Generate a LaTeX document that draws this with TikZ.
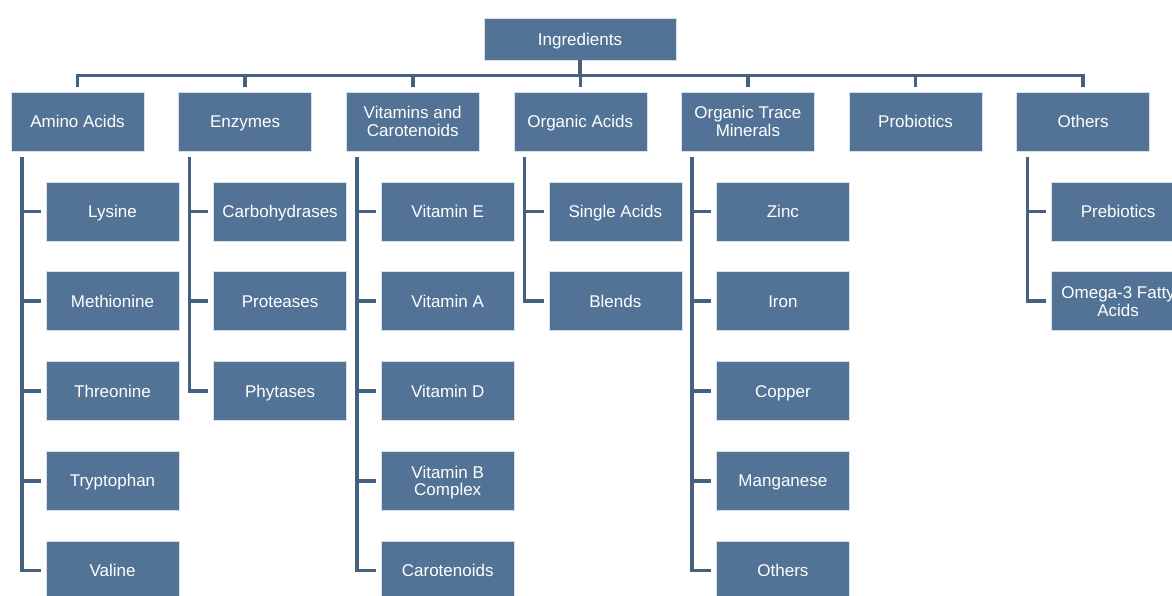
\documentclass[tikz,border=0pt]{standalone}
\usepackage{fontspec}
\setmainfont{Liberation Sans}
\usepackage{tikz}
\usetikzlibrary{positioning, calc}
\definecolor{boxblue}{HTML}{527396}
\definecolor{linkblue}{HTML}{45617F}
\definecolor{edgegrey}{HTML}{D8E0EA}

\begin{document}
\begin{tikzpicture}[
  x=1pt, y=1pt,
  node distance=30.2pt and 34pt,
  box/.style={rectangle, draw=edgegrey, line width=0.6pt, fill=boxblue, text=white, align=center, font=\fontsize{17}{17.5}\selectfont, inner sep=2pt, minimum width=133pt, minimum height=59pt, text height=12.3pt, text depth=0pt},
  twoline/.style={text height=29.8pt},
  root/.style={box, minimum width=192pt, minimum height=42pt},
  link/.style={draw=linkblue, line width=3.6pt, line join=miter}
]
  \useasboundingbox (0,0) rectangle (1172,-595);

  \node[root] (ingr) at (580,-39) {Ingredients};

  \node[box] (amino) at (77.5,-121.5) {Amino Acids};
  \node[box, right=of amino] (enzymes) {Enzymes};
  \node[box, twoline, right=of enzymes] (vitamins) {Vitamins and\\Carotenoids};
  \node[box, right=of vitamins] (organic) {Organic Acids};
  \node[box, twoline, right=of organic] (trace) {Organic Trace\\Minerals};
  \node[box, right=of trace] (probio) {Probiotics};
  \node[box, right=of probio] (others) {Others};

  \node[box, below=of amino, xshift=35pt] (lysine) {Lysine};
  \node[box, below=of lysine] (methionine) {Methionine};
  \node[box, below=of methionine] (threonine) {Threonine};
  \node[box, below=of threonine] (tryptophan) {Tryptophan};
  \node[box, below=of tryptophan] (valine) {Valine};

  \node[box, below=of enzymes, xshift=35pt] (carbo) {Carbohydrases};
  \node[box, below=of carbo] (proteases) {Proteases};
  \node[box, below=of proteases] (phytases) {Phytases};

  \node[box, below=of vitamins, xshift=35pt] (vite) {Vitamin E};
  \node[box, below=of vite] (vita) {Vitamin A};
  \node[box, below=of vita] (vitd) {Vitamin D};
  \node[box, twoline, below=of vitd] (vitb) {Vitamin B\\Complex};
  \node[box, below=of vitb] (carot) {Carotenoids};

  \node[box, below=of organic, xshift=35pt] (single) {Single Acids};
  \node[box, below=of single] (blends) {Blends};

  \node[box, below=of trace, xshift=35pt] (zinc) {Zinc};
  \node[box, below=of zinc] (iron) {Iron};
  \node[box, below=of iron] (copper) {Copper};
  \node[box, below=of copper] (manganese) {Manganese};
  \node[box, below=of manganese] (othermin) {Others};

  \node[box, below=of others, xshift=35pt] (prebio) {Prebiotics};
  \node[box, twoline, below=of prebio] (omega) {Omega-3 Fatty\\Acids};

  % top bus
  \coordinate (bus) at ([yshift=-15pt]ingr.south);
  \draw[link] (ingr.south) -- (bus);
  \draw[link] ([yshift=5pt]amino.north) |- (bus) -| ([yshift=5pt]others.north);
  \draw[link] ([yshift=5pt]enzymes.north) -- (enzymes.north |- bus);
  \draw[link] ([yshift=5pt]vitamins.north) -- (vitamins.north |- bus);
  \draw[link] ([yshift=5pt]organic.north) -- (organic.north |- bus);
  \draw[link] ([yshift=5pt]trace.north) -- (trace.north |- bus);
  \draw[link] ([yshift=5pt]probio.north) -- (probio.north |- bus);

  % amino acids
  \coordinate (aminoT) at ([xshift=11pt,yshift=-6pt]amino.south west);
  \draw[link] (aminoT) |- ([xshift=-5pt]valine.west);
  \draw[link] (aminoT |- lysine.west) -- ([xshift=-5pt]lysine.west);
  \draw[link] (aminoT |- methionine.west) -- ([xshift=-5pt]methionine.west);
  \draw[link] (aminoT |- threonine.west) -- ([xshift=-5pt]threonine.west);
  \draw[link] (aminoT |- tryptophan.west) -- ([xshift=-5pt]tryptophan.west);

  % enzymes
  \coordinate (enzT) at ([xshift=11pt,yshift=-6pt]enzymes.south west);
  \draw[link] (enzT) |- ([xshift=-5pt]phytases.west);
  \draw[link] (enzT |- carbo.west) -- ([xshift=-5pt]carbo.west);
  \draw[link] (enzT |- proteases.west) -- ([xshift=-5pt]proteases.west);

  % vitamins
  \coordinate (vitT) at ([xshift=11pt,yshift=-6pt]vitamins.south west);
  \draw[link] (vitT) |- ([xshift=-5pt]carot.west);
  \draw[link] (vitT |- vite.west) -- ([xshift=-5pt]vite.west);
  \draw[link] (vitT |- vita.west) -- ([xshift=-5pt]vita.west);
  \draw[link] (vitT |- vitd.west) -- ([xshift=-5pt]vitd.west);
  \draw[link] (vitT |- vitb.west) -- ([xshift=-5pt]vitb.west);

  % organic acids
  \coordinate (orgT) at ([xshift=11pt,yshift=-6pt]organic.south west);
  \draw[link] (orgT) |- ([xshift=-5pt]blends.west);
  \draw[link] (orgT |- single.west) -- ([xshift=-5pt]single.west);

  % trace minerals
  \coordinate (traceT) at ([xshift=11pt,yshift=-6pt]trace.south west);
  \draw[link] (traceT) |- ([xshift=-5pt]othermin.west);
  \draw[link] (traceT |- zinc.west) -- ([xshift=-5pt]zinc.west);
  \draw[link] (traceT |- iron.west) -- ([xshift=-5pt]iron.west);
  \draw[link] (traceT |- copper.west) -- ([xshift=-5pt]copper.west);
  \draw[link] (traceT |- manganese.west) -- ([xshift=-5pt]manganese.west);

  % others
  \coordinate (othT) at ([xshift=11pt,yshift=-6pt]others.south west);
  \draw[link] (othT) |- ([xshift=-5pt]omega.west);
  \draw[link] (othT |- prebio.west) -- ([xshift=-5pt]prebio.west);
\end{tikzpicture}
\end{document}
